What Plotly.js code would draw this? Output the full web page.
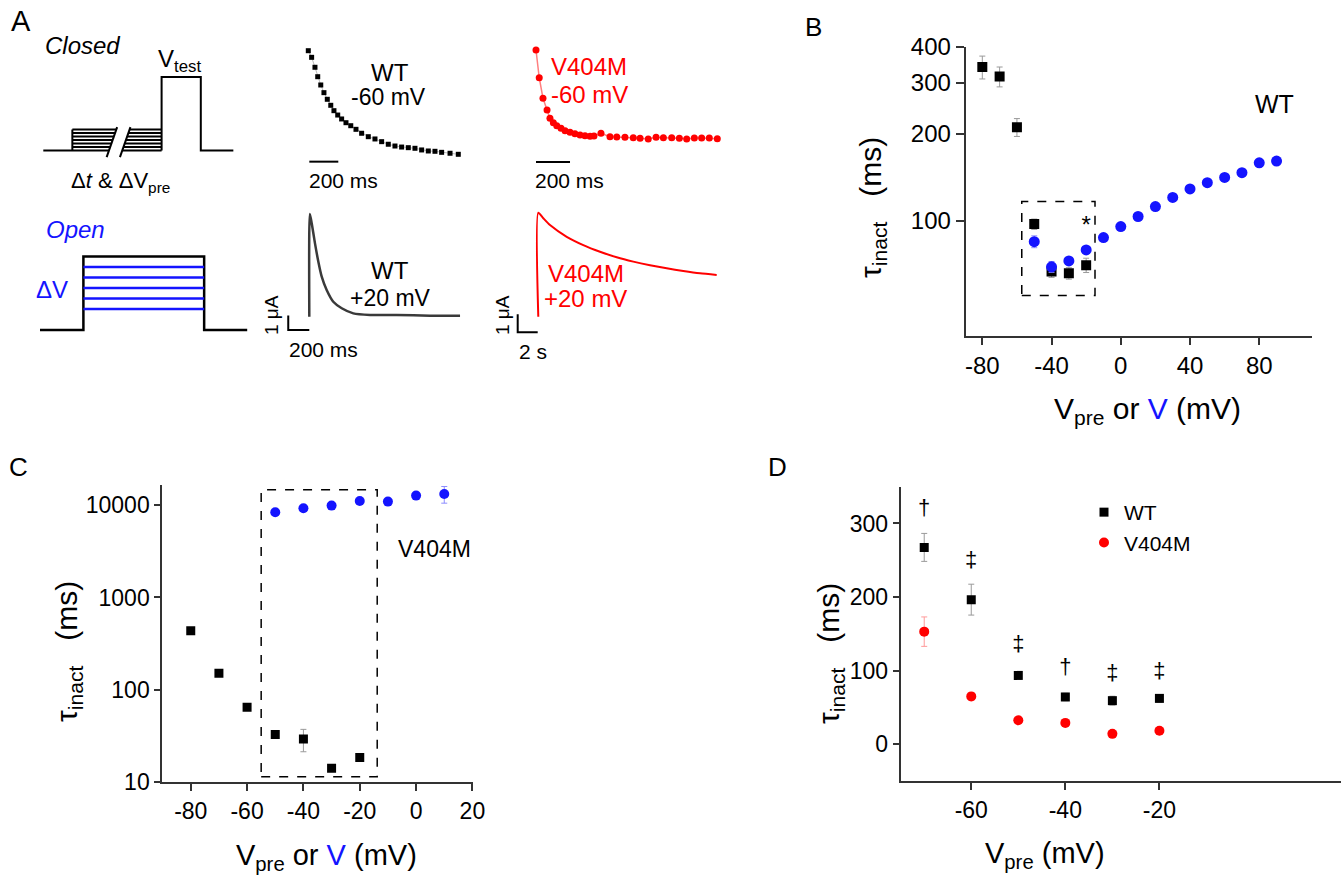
<!DOCTYPE html>
<html><head><meta charset="utf-8">
<script src="https://cdn.plot.ly/plotly-3.0.1.min.js"></script>
<style>html,body{margin:0;padding:0;background:#fff}</style>
</head><body><div id="chart" style="width:1341px;height:878px"></div>
<script>
// ================= DATA =================
// Panel B (WT): closed-state (Vpre, squares) and open-state (V, circles)
const bPreV   = [-80,-70,-60,-50,-40,-30,-20];
const bPreTau = [341,316,211,97.4,66.7,65.8,70.2];
const bPreErr = [31,25,15,4,3,3,4];
const bOpenV   = [-50,-40,-30,-20,-10,0,10,20,30,40,50,60,70,80,90];
const bOpenTau = [84.7,69.3,72.6,79.3,87.5,95.5,103.5,112,120.5,128.9,135.5,141.3,146.8,158.8,161];
const bOpenErr = [4,3,2,2,2,2,2,2,2,2,2,2,2,2,2];
const bBoxV = [-57.2,-14.9], bBoxTau = [55.1,116.7];
// Panel C (V404M)
const cPreV   = [-80,-70,-60,-50,-40,-30,-20];
const cPreTau = [437,151,64.9,33,29.4,14.2,18.5];
const cPreErr = [30,10,4,2,8,1,1.5];
const cOpenV   = [-50,-40,-30,-20,-10,0,10];
const cOpenTau = [8360,9230,9860,11070,10900,12650,13180];
const cOpenErr = [400,400,400,400,400,800,2700];
const cBoxV = [-55,-13.8], cBoxTau = [11.5,14600];
// Panel D (closed-state, WT vs V404M)
const dV      = [-70,-60,-50,-40,-30,-20];
const dWT     = [267.5,196.5,93.5,64.2,59.2,62.3];
const dWTErr  = [19,21,5,5,6,5];
const dMut    = [153,65,32.5,29,14.1,18.2];
const dMutErr = [20,5,3,3,3,3];
const dSig    = ['\u2020','\u2021','\u2021','\u2020','\u2021','\u2021'];
const dSigY   = [319,248,134,103.5,94.5,97.6];

// Panel A: protocols (schematic, arbitrary units)
const clT = [0, 8.3, 33.8, 45, 54.3];   // hold, prepulse start, test start, test end, end
const clTestV = 21;
const clPreLevels = [0,1,2,3,4,5,6];
const clBreakT = [18.1, 21.9];           // break slashes (bottom)
const clSlashV = [-1.9, 6.66];
const clSlashDT = 3.0;
const opT = [0, 12.4, 46.9, 59.2];
const opTopV = 21;
const opLevels = [6,9,12,15,18];

// Panel A: recovery time courses at -60 mV (normalized), time in ms
const wt60T = [0,23,46,65,86,108,131,155,177,203,230,260,293,329,368,414,460,506,552,598,644,690,736,782,828,874,920,978,1035];
const wt60I = [1.0,0.936,0.840,0.749,0.669,0.595,0.531,0.473,0.421,0.379,0.341,0.305,0.276,0.241,0.203,0.170,0.148,0.122,0.097,0.080,0.070,0.064,0.058,0.042,0.032,0.029,0.019,0.010,0.0];
const mut60T = [0,19,41,65,82,102,122,147,171,200,229,259,288,318,341,382,435,475,523,572,612,660,706,749,798,843,886,931,974,1019,1066];
const mut60I = [1.007,0.739,0.541,0.428,0.347,0.305,0.276,0.251,0.228,0.212,0.199,0.186,0.180,0.174,0.177,0.203,0.170,0.167,0.164,0.160,0.154,0.148,0.164,0.160,0.160,0.154,0.148,0.157,0.157,0.157,0.151];
// Panel A: currents at +20 mV (uA), time in ms
const wt20T = [0,5,23,54,86,118,165,228,308,418,577,830,1147,1432];
const wt20I = [0,7.08,6.44,5.06,3.79,2.76,1.84,1.03,0.58,0.23,0.12,0.12,0.07,0.07];
const mut20T = [0,0,500,1170,2840,4500,6170,7840,9500,11170,12840,14500,16170,17840];
const mut20I = [0,5.78,5.47,5.09,4.44,3.98,3.61,3.30,3.06,2.86,2.69,2.54,2.41,2.32];

// ================= LAYOUT HELPERS =================
const W = 1341, H = 878;
const FONT = 'Liberation Sans, Arial, sans-serif';
const BLUE = '#1414ff', RED = '#ff0000', AX = '#333333', ERR = '#9a9a9a';
const px = x => x / W, py = y => 1 - y / H;

function sub(box, origin, sx, sy) {
  return {
    x: {domain: [box[0]/W, box[1]/W], range: [(box[0]-origin[0])/sx, (box[1]-origin[0])/sx], visible: false, fixedrange: true},
    y: {domain: [1-box[3]/H, 1-box[2]/H], range: [(origin[1]-box[3])/sy, (origin[1]-box[2])/sy], visible: false, fixedrange: true}
  };
}
function mainAx(domPx, range, tickvals, font, extra) {
  return Object.assign({
    domain: domPx, range: range, tickvals: tickvals, ticktext: tickvals.map(String),
    showline: true, linecolor: AX, linewidth: 2, ticks: 'outside', ticklen: 7, tickwidth: 2, tickcolor: AX,
    showgrid: false, zeroline: false, tickfont: font, fixedrange: true
  }, extra || {});
}

const fB = {family: FONT, size: 24, color: '#000'};
const fC = {family: FONT, size: 23, color: '#000'};

const layout = {
  width: W, height: H, margin: {l:0, r:0, t:0, b:0},
  paper_bgcolor: '#fff', plot_bgcolor: 'rgba(0,0,0,0)',
  font: {family: FONT, size: 16, color: '#000'},
  showlegend: true,
  legend: {x: px(1084), y: py(492), xanchor: 'left', yanchor: 'top', bgcolor: 'rgba(0,0,0,0)',
           font: {family: FONT, size: 21, color: '#000'}, tracegroupgap: 0, itemwidth: 30},
  // B
  xaxis: mainAx([px(965.7), px(1311.7)], [-89.6, 110.3], [-80,-40,0,40,80], fB, {anchor: 'y'}),
  yaxis: mainAx([py(335.7), py(47)], [Math.log10(40), Math.log10(400)], [100,200,300,400], fB, {anchor: 'x', type: 'log', ticklen: 8}),
  // C
  xaxis2: mainAx([px(162.3), px(472.7)], [-90.1, 20.1], [-80,-60,-40,-20,0,20], fC, {anchor: 'y2'}),
  yaxis2: mainAx([py(782.3), py(485)], [1, 4.217], [10,100,1000,10000], fC, {anchor: 'x2', type: 'log', ticklen: 6}),
  // D
  xaxis3: mainAx([px(900.7), 1], [-75, 18.6], [-60,-40,-20], fC, {anchor: 'y3'}),
  yaxis3: mainAx([py(781), py(486.7)], [-50, 350], [0,100,200,300], fC, {anchor: 'x3', ticklen: 6}),
  annotations: [], shapes: []
};

// Panel A sub-axes (hidden)
const subs = {
  4: sub([38, 240, 70, 165], [43.3, 150.5], 3.5, 3.5),        // closed protocol
  5: sub([290, 475, 40, 200], [308.3, 154.3], 1/6.9, 103.6),  // WT -60
  6: sub([520, 730, 40, 200], [536, 154.3], 1/5.88, 103.6),   // V404M -60
  7: sub([35, 252, 245, 340], [40, 330], 3.5, 3.5),           // open protocol
  8: sub([262, 470, 205, 362], [309.3, 316.7], 1/9.5, 14.5),  // WT +20
  9: sub([495, 730, 205, 362], [538.3, 316.7], 0.01, 18)      // V404M +20
};
Object.keys(subs).forEach(k => {
  layout['xaxis'+k] = Object.assign(subs[k].x, {anchor: 'y'+k});
  layout['yaxis'+k] = Object.assign(subs[k].y, {anchor: 'x'+k});
});

// ================= TRACES =================
const traces = [];
const errSpec = (arr, col) => ({type: 'data', array: arr, visible: true, color: col, thickness: 1, width: 3});

// Panel B
traces.push({x: [bBoxV[0],bBoxV[1],bBoxV[1],bBoxV[0],bBoxV[0]], y: [bBoxTau[0],bBoxTau[0],bBoxTau[1],bBoxTau[1],bBoxTau[0]],
  xaxis: 'x', yaxis: 'y', mode: 'lines', line: {color: '#000', width: 1.5, dash: 'dash'}, showlegend: false, hoverinfo: 'skip'});
traces.push({x: bPreV, y: bPreTau, error_y: errSpec(bPreErr, ERR), xaxis: 'x', yaxis: 'y', mode: 'markers',
  marker: {symbol: 'square', size: 10, color: '#000'}, showlegend: false});
traces.push({x: bOpenV, y: bOpenTau, error_y: errSpec(bOpenErr, '#8c8cff'), xaxis: 'x', yaxis: 'y', mode: 'markers',
  marker: {symbol: 'circle', size: 11, color: BLUE}, showlegend: false});
traces.push({x: [-20], y: [95], text: ['*'], mode: 'text', xaxis: 'x', yaxis: 'y', textfont: {family: FONT, size: 24, color: '#000'}, showlegend: false});

// Panel C
traces.push({x: [cBoxV[0],cBoxV[1],cBoxV[1],cBoxV[0],cBoxV[0]], y: [cBoxTau[0],cBoxTau[0],cBoxTau[1],cBoxTau[1],cBoxTau[0]],
  xaxis: 'x2', yaxis: 'y2', mode: 'lines', line: {color: '#000', width: 1.5, dash: 'dash'}, showlegend: false, hoverinfo: 'skip'});
traces.push({x: cPreV, y: cPreTau, error_y: errSpec(cPreErr, ERR), xaxis: 'x2', yaxis: 'y2', mode: 'markers',
  marker: {symbol: 'square', size: 9, color: '#000'}, showlegend: false});
traces.push({x: cOpenV, y: cOpenTau, error_y: errSpec(cOpenErr, '#8c8cff'), xaxis: 'x2', yaxis: 'y2', mode: 'markers',
  marker: {symbol: 'circle', size: 10, color: BLUE}, showlegend: false});

// Panel D
traces.push({x: dV, y: dWT, name: 'WT', error_y: errSpec(dWTErr, ERR), xaxis: 'x3', yaxis: 'y3', mode: 'markers',
  marker: {symbol: 'square', size: 9, color: '#000'}, showlegend: true});
traces.push({x: dV, y: dMut, name: 'V404M', error_y: errSpec(dMutErr, '#ff9a9a'), xaxis: 'x3', yaxis: 'y3', mode: 'markers',
  marker: {symbol: 'circle', size: 10, color: RED}, showlegend: true});
traces.push({x: dV, y: dSigY, text: dSig, mode: 'text', xaxis: 'x3', yaxis: 'y3', textfont: {family: FONT, size: 22, color: '#000'}, showlegend: false});

// Panel A - closed protocol
const slope = clSlashDT / (clSlashV[1] - clSlashV[0]);
const slashT = (k, v) => clBreakT[k] + (v - clSlashV[0]) * slope;
let hx = [], hy = [];
clPreLevels.forEach(v => {
  hx.push(v === 0 ? clT[0] : clT[1], slashT(0, v), null, slashT(1, v), clT[2], null);
  hy.push(v, v, null, v, v, null);
});
const topPre = clPreLevels[clPreLevels.length-1];
hx.push(clT[1], clT[1], null, clT[2], clT[2], clT[3], clT[3], clT[4], null);
hy.push(0, topPre, null, 0, clTestV, clTestV, 0, 0, null);
[0,1].forEach(k => { hx.push(clBreakT[k], clBreakT[k] + clSlashDT, null); hy.push(clSlashV[0], clSlashV[1], null); });
traces.push({x: hx, y: hy, xaxis: 'x4', yaxis: 'y4', mode: 'lines', line: {color: '#000', width: 2}, showlegend: false, hoverinfo: 'skip', connectgaps: false});

// Panel A - open protocol
traces.push({x: [opT[0],opT[1],opT[1],opT[2],opT[2],opT[3]], y: [0,0,opTopV,opTopV,0,0], xaxis: 'x7', yaxis: 'y7',
  mode: 'lines', line: {color: '#000', width: 2.5}, showlegend: false, hoverinfo: 'skip'});
let ox = [], oy = [];
opLevels.forEach(v => { ox.push(opT[1], opT[2], null); oy.push(v, v, null); });
traces.push({x: ox, y: oy, xaxis: 'x7', yaxis: 'y7', mode: 'lines', line: {color: BLUE, width: 2.5}, showlegend: false, hoverinfo: 'skip'});

// Panel A - WT -60
traces.push({x: wt60T, y: wt60I, xaxis: 'x5', yaxis: 'y5', mode: 'lines+markers', line: {color: '#bbbbbb', width: 1},
  marker: {symbol: 'square', size: 5, color: '#000'}, showlegend: false});
traces.push({x: [7, 207], y: [-0.071, -0.071], xaxis: 'x5', yaxis: 'y5', mode: 'lines', line: {color: '#000', width: 2}, showlegend: false});
// Panel A - V404M -60
traces.push({x: mut60T, y: mut60I, xaxis: 'x6', yaxis: 'y6', mode: 'lines+markers', line: {color: 'rgba(255,0,0,0.5)', width: 1.5},
  marker: {symbol: 'circle', size: 7, color: RED}, showlegend: false});
traces.push({x: [0, 200], y: [-0.074, -0.074], xaxis: 'x6', yaxis: 'y6', mode: 'lines', line: {color: '#000', width: 2}, showlegend: false});
// Panel A - WT +20
traces.push({x: wt20T, y: wt20I, xaxis: 'x8', yaxis: 'y8', mode: 'lines', line: {color: '#3a3a3a', width: 2.5, shape: 'spline', smoothing: 0.6}, showlegend: false});
traces.push({x: [-200, -200, 0], y: [0.08, -0.92, -0.92], xaxis: 'x8', yaxis: 'y8', mode: 'lines', line: {color: '#000', width: 2}, showlegend: false});
// Panel A - V404M +20
traces.push({x: mut20T, y: mut20I, xaxis: 'x9', yaxis: 'y9', mode: 'lines', line: {color: RED, width: 2, shape: 'spline', smoothing: 0.6}, showlegend: false});
traces.push({x: [-2060, -2060, -60], y: [0.133, -0.867, -0.867], xaxis: 'x9', yaxis: 'y9', mode: 'lines', line: {color: '#000', width: 2}, showlegend: false});

// ================= TEXT =================
function ann(text, x, y, size, opts) {
  layout.annotations.push(Object.assign({text: text, x: px(x), y: py(y), xref: 'paper', yref: 'paper',
    xanchor: 'center', yanchor: 'middle', showarrow: false, font: {family: FONT, size: size, color: '#000'}}, opts || {}));
}
const fontOf = (fam, size, color) => ({family: fam, size: size, color: color || '#000'});
// panel letters
ann('A', 21, 21, 29); ann('B', 813, 27, 26); ann('C', 18, 467, 26); ann('D', 778, 467, 26);
// panel A text
ann('<i>Closed</i>', 82, 45, 24);
ann('V<sub>test</sub>', 179, 61, 24);
ann('\u0394<i>t</i> & \u0394V<sub>pre</sub>', 121, 182, 22);
ann('<i>Open</i>', 75, 229, 24, {font: fontOf(FONT, 24, BLUE)});
ann('\u0394V', 52, 289, 24, {font: fontOf(FONT, 24, BLUE)});
ann('WT', 390, 72, 24);
ann('-60 mV', 388, 97, 23);
ann('200 ms', 343, 181, 21);
ann('V404M', 589, 67, 24, {font: fontOf(FONT, 24, RED)});
ann('-60 mV', 589, 95, 24, {font: fontOf(FONT, 24, RED)});
ann('200 ms', 569, 180, 21);
ann('WT', 390, 270, 24);
ann('+20 mV', 390, 298, 23);
ann('1 \u03bcA', 272, 315, 19, {textangle: -90});
ann('200 ms', 323, 350, 21);
ann('V404M', 586, 273, 24, {font: fontOf(FONT, 24, RED)});
ann('+20 mV', 585, 299, 24, {font: fontOf(FONT, 24, RED)});
ann('1 \u03bcA', 503, 315, 19, {textangle: -90});
ann('2 s', 533, 351, 21);
// panel B text
ann('WT', 1274, 104, 25);
ann('\u03c4<sub>inact</sub>   (ms)', 872, 208, 30, {textangle: -90});
ann('V<sub>pre</sub> or <span style="color:' + BLUE + '">V</span> (mV)', 1147, 410, 30);
// panel C text
ann('V404M', 434, 549, 23);
ann('\u03c4<sub>inact</sub>   (ms)', 68, 652, 30, {textangle: -90});
ann('V<sub>pre</sub> or <span style="color:' + BLUE + '">V</span> (mV)', 326, 857, 29);
// panel D text
ann('\u03c4<sub>inact</sub>   (ms)', 830, 653, 30, {textangle: -90});
ann('V<sub>pre</sub> (mV)', 1045, 855, 29);

Plotly.newPlot('chart', traces, layout, {staticPlot: true, displayModeBar: false});
</script>
</body></html>
